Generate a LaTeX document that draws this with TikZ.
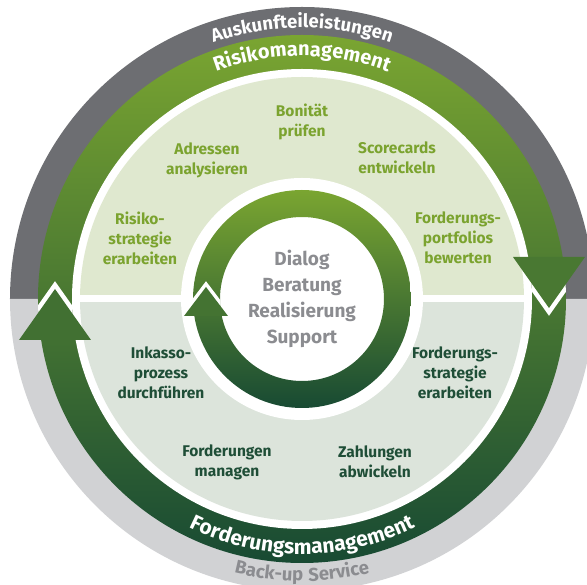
\documentclass[tikz,border=0pt]{standalone}
\usepackage{fontspec}
\setmainfont{Fira Sans}
\newfontfamily\arcfont{Fira Sans}[LetterSpace=6]
\usepackage{xcolor}
\usepackage{tikz}
\usetikzlibrary{decorations.text}
\definecolor{darkring}{HTML}{6D6E72}
\definecolor{lightring}{HTML}{D1D2D4}
\definecolor{ringtop}{HTML}{7AA531}
\definecolor{ringbot}{HTML}{184A33}
\definecolor{risklight}{HTML}{DFE8CF}
\definecolor{claimlight}{HTML}{DCE4DB}
\definecolor{risktext}{HTML}{7BA32F}
\definecolor{claimtext}{HTML}{1F4E37}
\definecolor{midtext}{HTML}{8B8C90}

\begin{document}
\begin{tikzpicture}[x=1pt,y=1pt,
  top/.style={align=center,text=risktext,font=\bfseries\fontsize{15.5}{20}\selectfont},
  bot/.style={align=center,text=claimtext,font=\bfseries\fontsize{15.5}{20}\selectfont},
  mid/.style={align=center,text=midtext,font=\bfseries\fontsize{19}{26}\selectfont},
  arctext/.style={decorate,decoration={text along path,text align=center,text={#1}}}]
\useasboundingbox (-302,-286) rectangle (285,299);

\fill[darkring] (-292,0) arc (180:0:292) -- cycle;
\fill[lightring] (-292,0) arc (180:360:292) -- cycle;
\shade[top color=ringtop,bottom color=ringbot] (0,0) circle (264);
\fill[white] (0,0) circle (230);
\fill[risklight] (-222,0) arc (180:0:222) -- cycle;
\fill[claimlight] (-222,0) arc (180:360:222) -- cycle;
\draw[white,line width=7] (-224,0) -- (224,0);
\fill[white] (0,0) circle (121);
\shade[top color=ringtop,bottom color=ringbot,even odd rule] (0,0) circle (109) (0,0) circle (82);

\begin{scope}[even odd rule]
\clip (0,0) circle (264) (0,0) circle (230);
\draw[white,line width=9] (211,42) -- (247,-9) -- (283,42);
\draw[white,line width=9] (-283,-41) -- (-247,10) -- (-211,-41);
\end{scope}
\begin{scope}[even odd rule]
\clip (0,0) circle (109) (0,0) circle (82);
\draw[white,line width=7] (-118,-17) -- (-96,12) -- (-74,-17);
\end{scope}
\fill[ringtop!50!ringbot] (211,42) -- (247,-9) -- (283,42) -- cycle;
\fill[ringtop!42!ringbot] (-283,-41) -- (-247,10) -- (-211,-41) -- cycle;
\fill[ringtop!45!ringbot] (-118,-17) -- (-96,12) -- (-74,-17) -- cycle;

\path[arctext={|\arcfont\bfseries\fontsize{18.5}{19}\selectfont\color{white}|Auskunfteileistungen}] (150:271) arc (150:30:271);
\path[arctext={|\arcfont\bfseries\fontsize{20}{20}\selectfont\color{white}|Risikomanagement}] (150:243) arc (150:30:243);
\path[arctext={|\arcfont\bfseries\fontsize{21}{21}\selectfont\color{white}|Forderungsmanagement}] (210:255) arc (210:330:255);
\path[arctext={|\arcfont\bfseries\fontsize{18.5}{19}\selectfont\color{midtext}|Back-up Service}] (210:282) arc (210:330:282);

\node[top] (bon) at (0,177) {Bonität\\prüfen};
\node[top] (adr) at (-95,139) {Adressen\\analysieren};
\node[top] (sco) at (95,141) {Scorecards\\entwickeln};
\node[top] (ris) at (-162,61) {Risiko-\\strategie\\erarbeiten};
\node[top] (por) at (156,61) {Forderungs-\\portfolios\\bewerten};
\node[bot] (ink) at (-141,-74) {Inkasso-\\prozess\\durchführen};
\node[bot] (str) at (153,-74) {Forderungs-\\strategie\\erarbeiten};
\node[bot] (fom) at (-75,-163) {Forderungen\\managen};
\node[bot] (zah) at (73,-163) {Zahlungen\\abwickeln};
\node[mid] (dia) at (0,0) {Dialog\\Beratung\\Realisierung\\Support};
\end{tikzpicture}
\end{document}
